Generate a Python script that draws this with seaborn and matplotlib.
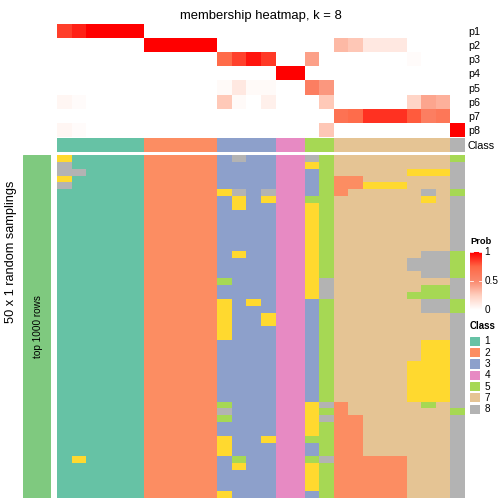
import numpy as np
import pandas as pd
import matplotlib
matplotlib.use('Agg')
import matplotlib.pyplot as plt
from matplotlib.colors import ListedColormap, LinearSegmentedColormap
from matplotlib.patches import Rectangle
import seaborn as sns

# membership probabilities, one list per class row (28 samples)
p1 = [0.85, 0.92, 1, 1, 1, 1] + [0] * 22
p2 = [0] * 6 + [1] * 5 + [0] * 8 + [0.33, 0.28, 0.12, 0.12, 0.12, 0, 0, 0] + [0]
p3 = [0] * 11 + [0.73, 0.84, 0.95, 0.86] + [0, 0] + [0.42, 0] + [0, 0, 0, 0, 0, 0.02, 0, 0] + [0]
p4 = [0] * 15 + [1, 1] + [0] * 11
p5 = [0] * 11 + [0.03, 0.12, 0.03, 0.03] + [0, 0] + [0.58, 0.45] + [0] * 9
p6 = [0.05, 0.02] + [0] * 9 + [0.27, 0.03, 0, 0.08] + [0, 0] + [0, 0.27] + [0, 0, 0, 0, 0, 0.22, 0.4, 0.36] + [0]
p7 = [0] * 19 + [0.67, 0.72, 0.88, 0.88, 0.88, 0.78, 0.58, 0.64] + [0]
p8 = [0.05, 0.02] + [0] * 16 + [0.28] + [0] * 8 + [1]
prob_rows = ['p1', 'p2', 'p3', 'p4', 'p5', 'p6', 'p7', 'p8']

sample_class = [1] * 6 + [2] * 5 + [3] * 4 + [4] * 2 + [5] * 2 + [7] * 8 + [8]

# class assigned in each of the 50 random samplings
samplings = [
    "611111 22222 3833 44 85 77777777 5",
    "811111 22222 3333 44 65 77777777 8",
    "881111 22222 3333 44 35 77777666 8",
    "611111 22222 3333 44 35 22777777 8",
    "811111 22222 3333 44 35 22666777 8",
    "111111 22222 6838 44 35 27777787 5",
    "111111 22222 3636 44 55 77777767 8",
    "111111 22222 3633 44 65 77777777 8",
    "111111 22222 3333 44 65 77777777 8",
    "111111 22222 3333 44 65 77777777 8",
    "111111 22222 3333 44 65 77777777 8",
    "111111 22222 3333 44 65 77777777 8",
    "111111 22222 3333 44 65 77777777 8",
    "111111 22222 3333 44 65 77777777 8",
    "111111 22222 3633 44 65 77777788 5",
    "111111 22222 3333 44 65 77777888 5",
    "111111 22222 3333 44 65 77777888 5",
    "111111 22222 3333 44 65 77777788 5",
    "111111 22222 5333 44 68 77777777 8",
    "111111 22222 3333 44 68 77777755 8",
    "111111 22222 3333 44 68 77777555 8",
    "111111 22222 6363 44 35 77777788 5",
    "111111 22222 6333 44 35 77777788 5",
    "111111 22222 6336 44 35 77777777 8",
    "111111 22222 6336 44 35 77777777 8",
    "111111 22222 6333 44 35 77777777 8",
    "111111 22222 6333 44 35 77777777 8",
    "111111 22222 3333 44 35 77777766 8",
    "111111 22222 3333 44 35 77777766 8",
    "111111 22222 3333 44 35 77777766 8",
    "111111 22222 3333 44 35 77777666 8",
    "111111 22222 3333 44 35 77777666 8",
    "111111 22222 3333 44 35 77777666 8",
    "111111 22222 3333 44 35 77777666 8",
    "111111 22222 3333 44 35 77777666 8",
    "111111 22222 3333 44 35 77777666 8",
    "111111 22222 5333 44 68 27777757 8",
    "111111 22222 8333 44 65 27777777 5",
    "111111 22222 5333 44 68 22777777 8",
    "111111 22222 3333 44 65 22777777 8",
    "111111 22222 3333 44 65 22777777 8",
    "111111 22222 6336 44 55 22777777 8",
    "111111 22222 6333 44 35 22777777 8",
    "111111 22222 6333 44 35 22777777 8",
    "161111 22222 3533 44 58 22222777 8",
    "111111 22222 3633 44 65 22222777 8",
    "111111 22222 3333 44 65 22222777 8",
    "111111 22222 3333 44 65 22222777 8",
    "111111 22222 3333 44 65 22222777 8",
    "111111 22222 6333 44 35 22222777 8",
]

class_colors = ['#66C2A5', '#FC8D62', '#8DA0CB', '#E78AC3',
                '#A6D854', '#FFD92F', '#E5C494', '#B3B3B3']
legend_classes = [1, 2, 3, 4, 5, 7, 8]

plt.rcParams['font.family'] = ['Liberation Sans', 'DejaVu Sans']

W = H = 504
fig = plt.figure(figsize=(7, 7), dpi=72)


def px_axes(x0, y0, x1, y1):
    return fig.add_axes([x0 / W, 1 - y1 / H, (x1 - x0) / W, (y1 - y0) / H])


# white -> red, roughly as interpolated in LAB space
prob_cmap = LinearSegmentedColormap.from_list(
    'prob', ['#FFFFFF', '#FFCFBF', '#FA896E', '#FF6846', '#FF0000'])
class_cmap = ListedColormap(class_colors)

# membership heatmap
prob = pd.DataFrame([p1, p2, p3, p4, p5, p6, p7, p8], index=prob_rows)
ax = px_axes(57, 24, 465, 137)
sns.heatmap(prob, ax=ax, cmap=prob_cmap, vmin=0, vmax=1, cbar=False,
            xticklabels=False, yticklabels=prob_rows)
ax.yaxis.tick_right()
ax.tick_params(axis='y', length=0, pad=3, labelsize=10.8, labelrotation=0)
ax.set_title('membership heatmap, k = 8', fontsize=13, pad=5)

# class annotation
ax = px_axes(57, 138, 465, 152)
sns.heatmap(pd.DataFrame([sample_class], index=['Class']), ax=ax, cmap=class_cmap,
            vmin=0.5, vmax=8.5, cbar=False, xticklabels=False, yticklabels=['Class'])
ax.yaxis.tick_right()
ax.tick_params(axis='y', length=0, pad=3, labelsize=10.8, labelrotation=0)

# random samplings
samp = np.array([[int(c) for c in s.replace(' ', '')] for s in samplings])
ax = px_axes(57, 155, 465, 497.5)
sns.heatmap(samp, ax=ax, cmap=class_cmap, vmin=0.5, vmax=8.5, cbar=False,
            xticklabels=False, yticklabels=False)

# left annotation bar
ax = px_axes(23, 155, 51, 497.5)
ax.add_patch(Rectangle((0, 0), 1, 1, color='#7FC97F'))
ax.set_xlim(0, 1)
ax.set_ylim(0, 1)
ax.axis('off')
ax.text(0.55, 0.5, 'top 1000 rows', rotation=90, ha='center', va='center', fontsize=10)

fig.text(11 / W, 1 - 252 / H, '50 x 1 random samplings', rotation=90,
         ha='center', va='center', fontsize=12.8)

# probability legend
cax = px_axes(470, 252, 482, 310)
grad = np.linspace(0, 1, 100).reshape(-1, 1)
cax.imshow(grad, cmap=prob_cmap, aspect='auto', origin='lower', extent=(0, 1, 0, 1))
for v in [0.5, 1]:
    cax.plot([0, 0.25], [v, v], color='white', lw=0.8)
    cax.plot([0.75, 1], [v, v], color='white', lw=0.8)
cax.set_xlim(0, 1)
cax.set_ylim(0, 1)
cax.axis('off')
for v, lab in [(0, '0'), (0.5, '0.5'), (1, '1')]:
    cax.text(1.2, v, lab, ha='left', va='center', fontsize=10)
fig.text(470 / W, 1 - 241.5 / H, 'Prob', fontsize=9.3, fontweight='bold', va='center')

# class legend
fig.text(470 / W, 1 - 326 / H, 'Class', fontsize=9.8, fontweight='bold', va='center')
for i, k in enumerate(legend_classes):
    yc = 341.3 + i * 11.3
    lax = px_axes(470, yc - 4.6, 480, yc + 4.6)
    lax.add_patch(Rectangle((0, 0), 1, 1, color=class_colors[k - 1]))
    lax.set_xlim(0, 1)
    lax.set_ylim(0, 1)
    lax.axis('off')
    fig.text(484.5 / W, 1 - yc / H, str(k), fontsize=10, va='center')

fig.savefig('out.png', dpi=72)
